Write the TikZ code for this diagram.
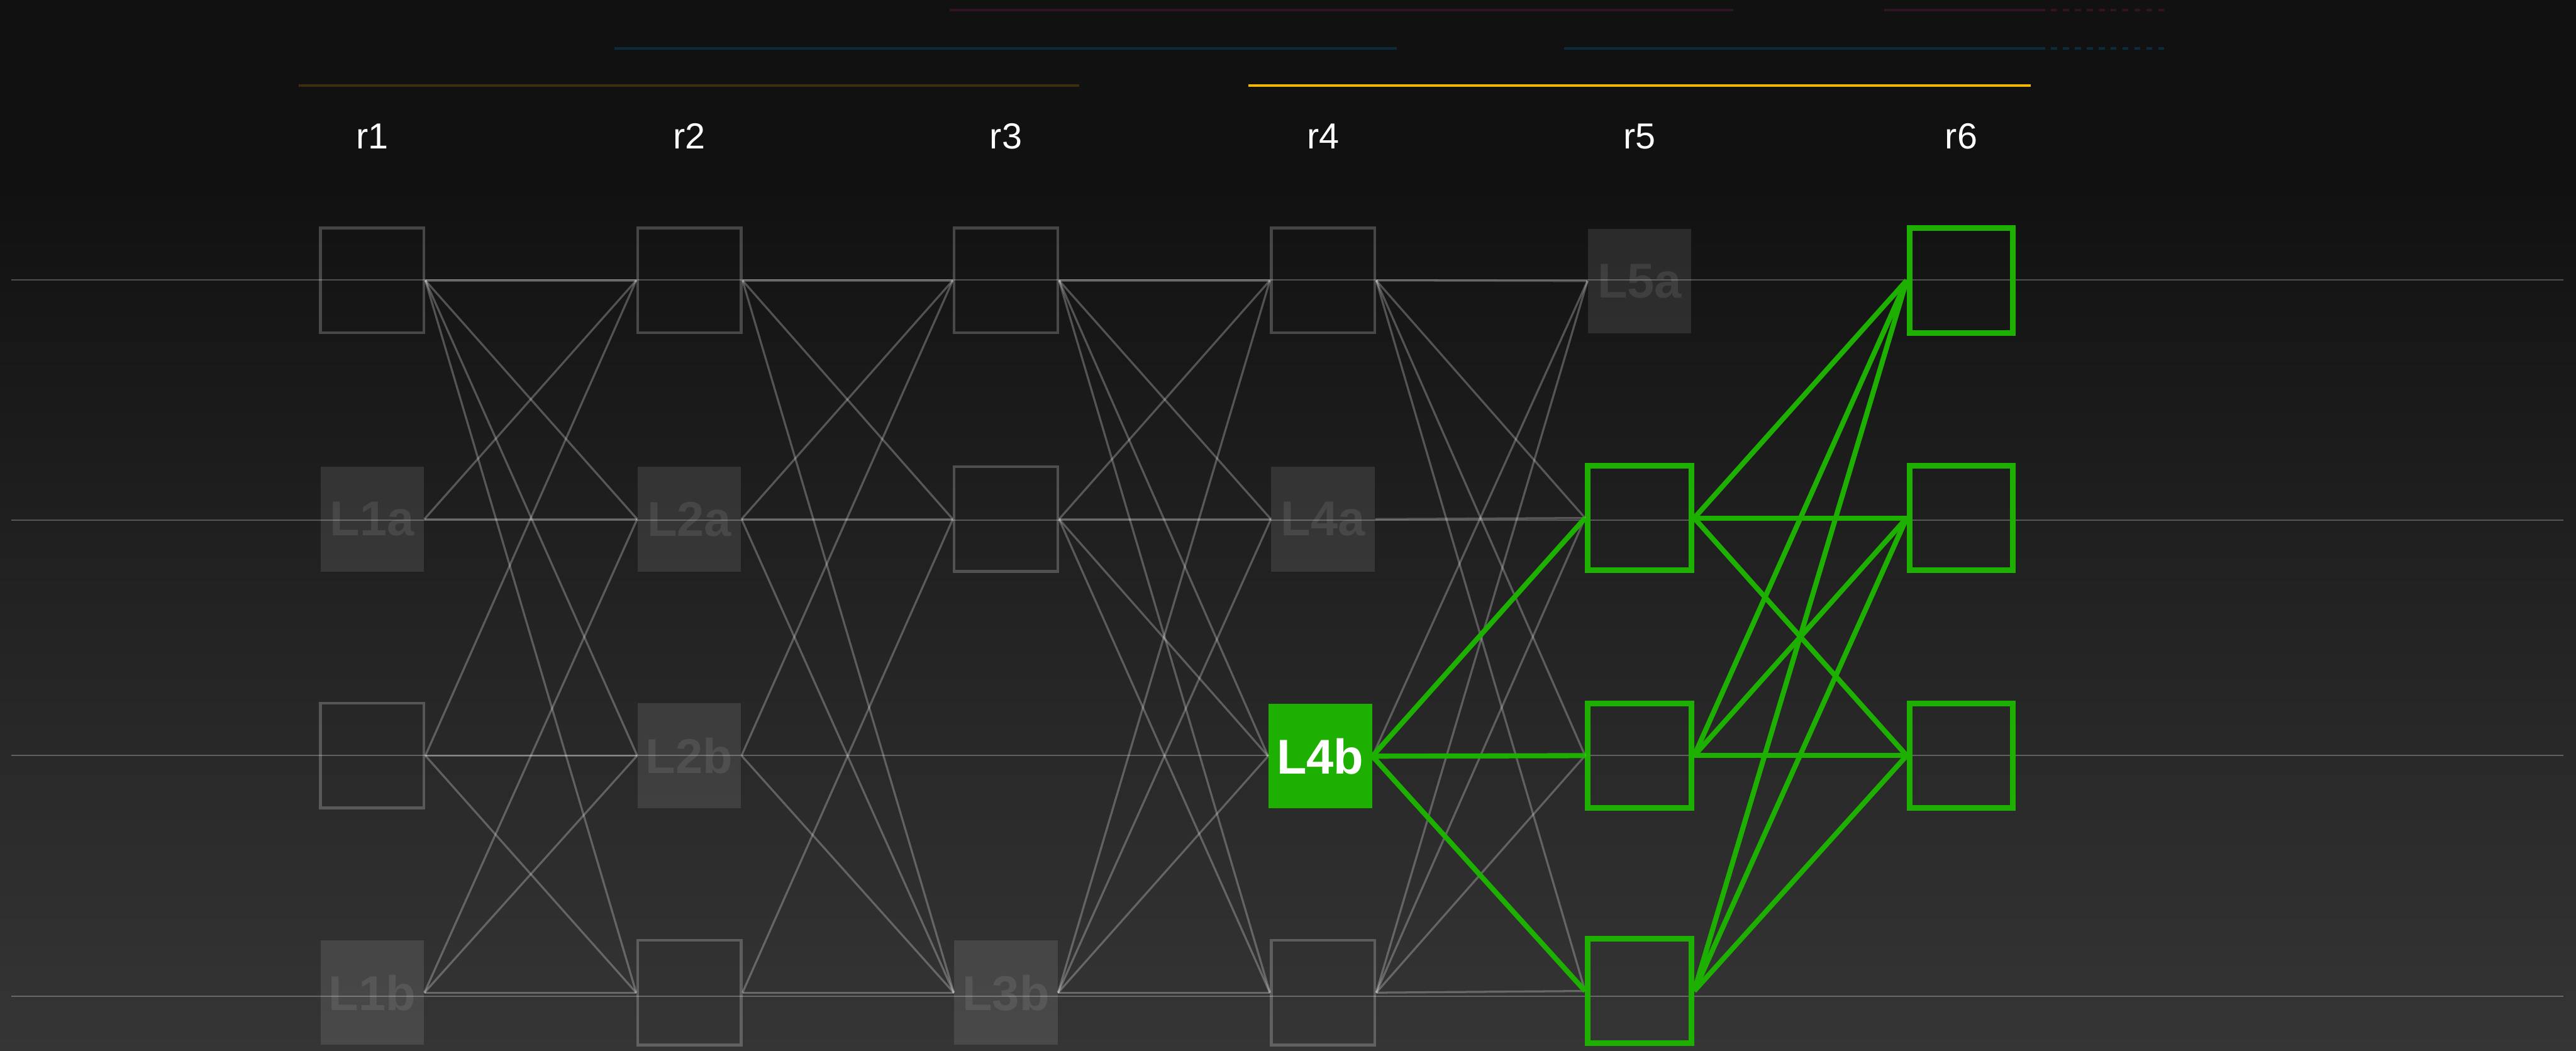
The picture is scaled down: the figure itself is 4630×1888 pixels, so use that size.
\documentclass[tikz,border=0pt]{standalone}
\usepackage{fontspec}
\setmainfont{Liberation Sans}
\usetikzlibrary{positioning}
\definecolor{PanelTop}{HTML}{111111}
\definecolor{PanelLow}{HTML}{353535}
\definecolor{TraceGreen}{HTML}{1DB000}
\definecolor{BandGold}{HTML}{F2B705}
\definecolor{BandGoldDim}{HTML}{3B2E0F}
\definecolor{BandBlue}{HTML}{0B2B3F}
\definecolor{BandRose}{HTML}{311426}
\tikzset{
  every node/.style={text=white},
  colhead/.style={font=\fontsize{18.5}{20}\selectfont},
  cell/.style={draw=white, draw opacity=0.22, line width=1.4pt, inner sep=0pt,
    minimum width=1.86cm, minimum height=1.88cm},
  ghost/.style={fill=white, fill opacity=0.1, text opacity=0.09, inner sep=0pt,
    minimum width=1.86cm, minimum height=1.88cm, font=\bfseries\fontsize{25}{26}\selectfont},
  lit/.style={draw=TraceGreen, line width=2.85pt, inner sep=0pt,
    minimum width=1.86cm, minimum height=1.88cm},
  hot/.style={fill=TraceGreen, inner sep=0pt,
    minimum width=1.86cm, minimum height=1.88cm, font=\bfseries\fontsize{25}{26}\selectfont},
  rowline/.style={draw=white, draw opacity=0.26, line width=0.6pt},
  wire/.style={draw=white, draw opacity=0.26, line width=1.05pt},
  glow/.style={draw=TraceGreen, line width=2.6pt},
  band/.style={line width=1.42pt},
}

\begin{document}
\begin{tikzpicture}[x=0.01cm,y=-0.01cm]
  \useasboundingbox (0,0) rectangle (4630,1888);
  % Backdrop: flat strip at the top, then a soft fade downwards
  \fill[PanelTop] (0,0) rectangle (4630,330);
  \shade[top color=PanelTop, bottom color=PanelLow] (0,330) rectangle (4630,1888);
  % Span bars
  \draw[band, BandRose] (1707,18) -- (3115,18);
  \draw[band, BandRose] (3387,18) -- (3665,18);
  \draw[band, BandRose, dash pattern=on 0.107cm off 0.107cm] (3665,18) -- (3896,18);
  \draw[band, BandBlue] (1104,87) -- (2510,87);
  \draw[band, BandBlue] (2811,87) -- (3665,87);
  \draw[band, BandBlue, dash pattern=on 0.107cm off 0.107cm] (3665,87) -- (3896,87);
  \draw[band, BandGoldDim] (537,154) -- (1940,154);
  \draw[band, BandGold] (2244,154) -- (3650,154);
  % Column heads
  \foreach \c/\x in {1/669,2/1239,3/1808,4/2378,5/2947,6/3525}
    \node[colhead] (h\c) at (\x,245) {r\c};
  % Row guides
  \foreach \y in {503,935,1358,1790}
    \draw[rowline] (20,\y) -- (4607,\y);
  % Column 1
  \node[cell]  (n1-1) at (669,504) {};
  \node[ghost] (n1-2) at (669,933) {L1a};
  \node[cell]  (n1-3) at (669,1358) {};
  \node[ghost] (n1-4) at (669,1784) {L1b};
  % Column 2
  \node[cell]  (n2-1) at (1239,504) {};
  \node[ghost] (n2-2) at (1239,933) {L2a};
  \node[ghost] (n2-3) at (1239,1358) {L2b};
  \node[cell]  (n2-4) at (1239,1784) {};
  % Column 3
  \node[cell]  (n3-1) at (1808,504) {};
  \node[cell]  (n3-2) at (1808,933) {};
  \node[ghost] (n3-4) at (1808,1784) {L3b};
  % Column 4
  \node[cell]  (n4-1) at (2378,504) {};
  \node[ghost] (n4-2) at (2378,933) {L4a};
  \node[hot]   (n4-3) at (2373,1359) {L4b};
  \node[cell]  (n4-4) at (2378,1784) {};
  % Column 5
  \node[ghost] (n5-1) at (2947,505) {L5a};
  \node[lit]   (n5-2) at (2947,931) {};
  \node[lit]   (n5-3) at (2947,1358) {};
  \node[lit]   (n5-4) at (2947,1781) {};
  % Column 6
  \node[lit]   (n6-1) at (3525,504) {};
  \node[lit]   (n6-2) at (3525,931) {};
  \node[lit]   (n6-3) at (3525,1358) {};
  % Grey links
  \foreach \a/\b in {1-1/2-1,1-1/2-2,1-1/2-3,1-1/2-4,
                     1-2/2-1,1-2/2-2,
                     1-3/2-1,1-3/2-3,1-3/2-4,
                     1-4/2-2,1-4/2-3,1-4/2-4,
                     2-1/3-1,2-1/3-2,2-1/3-4,
                     2-2/3-1,2-2/3-2,2-2/3-4,
                     2-3/3-1,2-3/3-4,
                     2-4/3-2,2-4/3-4,
                     4-1/5-1,4-1/5-2,4-1/5-3,4-1/5-4,
                     4-2/5-2,
                     4-3/5-1,
                     4-4/5-1,4-4/5-2,4-4/5-3,4-4/5-4}
    \draw[wire] (n\a.east) -- (n\b.west);
  \foreach \a in {1,2,4}
    \foreach \b in {1,2,3,4}
      \draw[wire] (n3-\a.east) -- (n4-\b.west);
  % Lit path
  \foreach \b in {2,3,4}
    \draw[glow] (n4-3.east) -- (n5-\b.west);
  \foreach \a in {2,3,4}
    \foreach \b in {1,2,3}
      \draw[glow] (n5-\a.east) -- (n6-\b.west);
\end{tikzpicture}
\end{document}
